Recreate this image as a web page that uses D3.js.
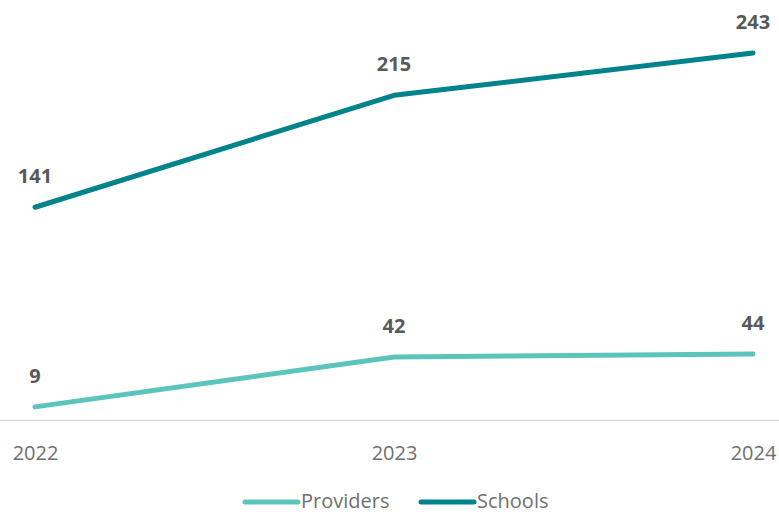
<!DOCTYPE html>
<html>
<head>
<meta charset="utf-8">
<script src="https://cdn.jsdelivr.net/npm/d3@7"></script>
<style>
  html, body { margin: 0; padding: 0; background: #ffffff; }
  svg { display: block; font-family: "Open Sans", Lato, sans-serif; }
</style>
</head>
<body>
<svg id="chart" width="779" height="514"></svg>
<script>
// Yearly counts for each series
const years = ["2022", "2023", "2024"];
const providers = [9, 42, 44];
const schools = [141, 215, 243];
const seriesNames = ["Providers", "Schools"];
const seriesColors = ["#5cc5bb", "#00838a"];

const svg = d3.select("#chart");
const width = 779;

const x = d3.scalePoint().domain(years).range([35, 753]);
const y = d3.scaleLinear().domain([0, 243]).range([420.5, 53]);

// Baseline
svg.append("line")
  .attr("x1", 0).attr("x2", width)
  .attr("y1", y(0)).attr("y2", y(0))
  .attr("stroke", "#d9d9d9").attr("stroke-width", 1.5);

// Category axis labels
const xAxis = d3.axisBottom(x).tickSize(0).tickPadding(0);
const gx = svg.append("g").attr("transform", `translate(0,${y(0)})`).call(xAxis);
gx.select(".domain").remove();
gx.selectAll("text")
  .attr("dy", null)
  .attr("y", 39)
  .attr("fill", "#6f6f6f")
  .style("font-size", "20px")
  .style("font-family", "'Open Sans', Lato, sans-serif");

const series = [
  { name: seriesNames[0], values: providers, color: seriesColors[0] },
  { name: seriesNames[1], values: schools, color: seriesColors[1] }
];

const line = d3.line()
  .x((d, i) => x(years[i]))
  .y(d => y(d));

series.forEach(s => {
  svg.append("path")
    .datum(s.values)
    .attr("d", line)
    .attr("fill", "none")
    .attr("stroke", s.color)
    .attr("stroke-width", 5)
    .attr("stroke-linecap", "round")
    .attr("stroke-linejoin", "round");

  svg.append("g").selectAll("text")
    .data(s.values)
    .join("text")
    .attr("x", (d, i) => x(years[i]))
    .attr("y", d => y(d) - 24)
    .attr("text-anchor", "middle")
    .attr("fill", "#595959")
    .style("font-size", "20px")
    .style("font-weight", "bold")
    .text(d => d);
});

// Legend
const legendItems = [
  { x: 243, s: series[0] },
  { x: 419, s: series[1] }
];
const ly = 502;
legendItems.forEach(item => {
  svg.append("line")
    .attr("x1", item.x + 2).attr("x2", item.x + 55)
    .attr("y1", ly).attr("y2", ly)
    .attr("stroke", item.s.color)
    .attr("stroke-width", 5)
    .attr("stroke-linecap", "round");
  svg.append("text")
    .attr("x", item.x + 58)
    .attr("y", ly + 6)
    .attr("fill", "#6f6f6f")
    .style("font-size", "20px")
    .text(item.s.name);
});
</script>
</body>
</html>
